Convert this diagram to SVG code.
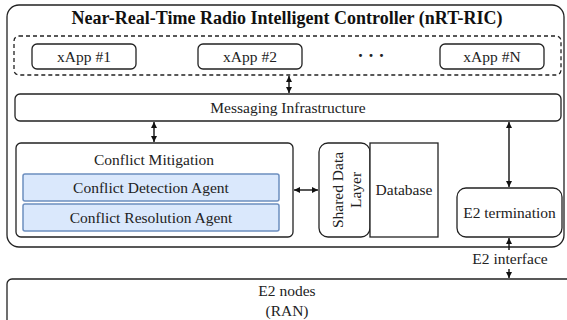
<svg xmlns="http://www.w3.org/2000/svg" width="567" height="320" viewBox="0 0 567 320">
<defs>
<style>
.box{fill:#fff;stroke:#222;stroke-width:1.3}
.agent{fill:#dae8fc;stroke:#6c8ebf;stroke-width:1.5}
.dash{fill:none;stroke:#222;stroke-width:1.3;stroke-dasharray:4 3}
.t{font-family:"Liberation Serif","Times New Roman",serif;font-size:15.5px;fill:#222;text-anchor:middle}
.title{font-family:"Liberation Serif","Times New Roman",serif;font-size:18px;font-weight:bold;fill:#111;text-anchor:middle}
.conn{fill:none;stroke:#111;stroke-width:1.4}
</style>
<marker id="ah" viewBox="0 0 10 10" refX="10" refY="5" markerWidth="6" markerHeight="6" markerUnits="userSpaceOnUse" orient="auto-start-reverse">
<path d="M0,0 L10,5 L0,10 z" fill="#111"/>
</marker>
</defs>
<g id="ric">
<rect class="box" x="7" y="5" width="557" height="242" rx="12" stroke-width="1.5"/>
<text class="title" x="287" y="24">Near-Real-Time Radio Intelligent Controller (nRT-RIC)</text>
</g>
<g id="xapps">
<rect class="dash" x="14" y="36" width="547" height="39" rx="5"/>
</g>
<g id="xapp1">
<rect class="box" x="32" y="44" width="104" height="25" rx="5"/>
<text class="t" x="84" y="61.5">xApp #1</text>
</g>
<g id="xapp2">
<rect class="box" x="198" y="44" width="104" height="25" rx="5"/>
<text class="t" x="250" y="61.5">xApp #2</text>
</g>
<g id="dots">
<text class="t" x="371" y="62" style="font-weight:bold;font-size:18px">· · ·</text>
</g>
<g id="xappN">
<rect class="box" x="440" y="44" width="104" height="25" rx="5"/>
<text class="t" x="492" y="61.5">xApp #N</text>
</g>
<g id="messaging">
<rect class="box" x="15" y="94" width="546" height="27" rx="5"/>
<text class="t" x="288" y="113">Messaging Infrastructure</text>
</g>
<g id="conflict-mitigation">
<rect class="box" x="16" y="143" width="277" height="94" rx="5"/>
<text class="t" x="154" y="165">Conflict Mitigation</text>
</g>
<g id="detection">
<rect class="agent" x="23" y="174" width="256" height="27" rx="2"/>
<text class="t" x="151" y="192.5">Conflict Detection Agent</text>
</g>
<g id="resolution">
<rect class="agent" x="23" y="204" width="256" height="27" rx="2"/>
<text class="t" x="151" y="222.5">Conflict Resolution Agent</text>
</g>
<g id="sdl">
<rect class="box" x="319" y="143" width="51" height="94" rx="9"/>
<text class="t" transform="translate(343,190) rotate(-90)" x="0" y="0">Shared Data</text>
<text class="t" transform="translate(361,190) rotate(-90)" x="0" y="0">Layer</text>
</g>
<g id="database">
<rect class="box" x="370" y="143" width="68" height="94"/>
<text class="t" x="404" y="195">Database</text>
</g>
<g id="e2term">
<rect class="box" x="457" y="188" width="105" height="49" rx="9"/>
<text class="t" x="509.5" y="218">E2 termination</text>
</g>
<g id="e2nodes">
<rect class="box" x="7" y="279" width="575" height="60" rx="5"/>
<text class="t" x="287" y="296">E2 nodes</text>
<text class="t" x="287" y="316">(RAN)</text>
</g>
<g id="connectors">
<line class="conn" x1="289" y1="76" x2="289" y2="93" marker-start="url(#ah)" marker-end="url(#ah)"/>
<line class="conn" x1="154" y1="122" x2="154" y2="142" marker-start="url(#ah)" marker-end="url(#ah)"/>
<line class="conn" x1="294" y1="190" x2="318" y2="190" marker-start="url(#ah)" marker-end="url(#ah)"/>
<line class="conn" x1="509" y1="122" x2="509" y2="187" marker-start="url(#ah)" marker-end="url(#ah)"/>
<path class="conn" d="M509,238 V250 M509,269 V278" marker-start="url(#ah)" marker-end="url(#ah)"/>
<text class="t" x="510" y="264">E2 interface</text>
</g>
</svg>
